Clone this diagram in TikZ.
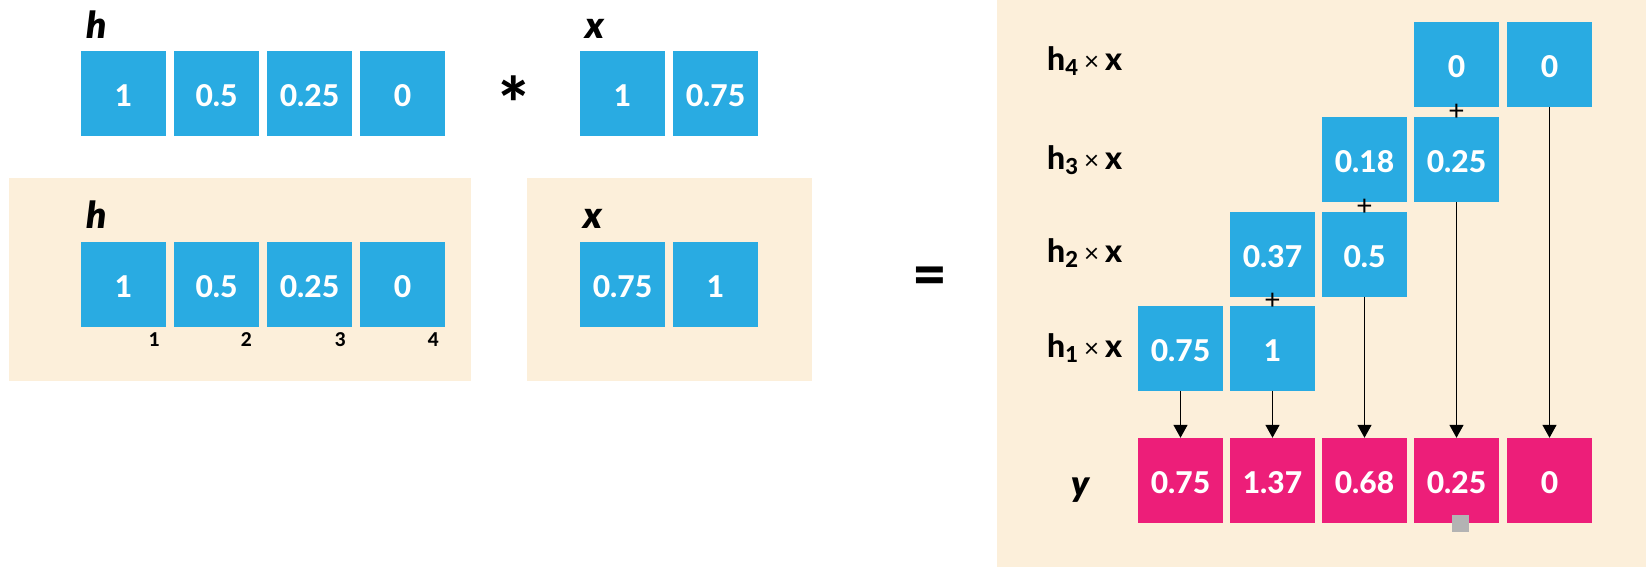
\documentclass[tikz,border=0pt]{standalone}
\usepackage{fontspec}
\IfFontExistsTF{Lato Heavy}
  {\setmainfont{Lato}[BoldFont={Lato Heavy}]}
  {\setmainfont{Lato}}
\usetikzlibrary{arrows.meta}
\definecolor{cyanc}{HTML}{29ABE2}
\definecolor{magc}{HTML}{ED1E79}
\definecolor{beige}{HTML}{FCEFDA}
\definecolor{grayc}{HTML}{B3B3B3}
\newcommand{\fsz}[1]{\fontsize{#1}{#1}\selectfont}
\newcommand{\hrow}[1]{\textbf{h}\raisebox{-5pt}{\fsz{22}\bfseries #1}\hspace{6pt}{\fsz{26}×}\hspace{6pt}\textbf{x}}
\begin{document}
\begin{tikzpicture}[x=1pt,y=-1pt,
  cell/.style={minimum width=85pt,minimum height=85pt,inner sep=0pt,text=white,
    text height=26pt,text depth=0pt,font=\fsz{30}\bfseries},
  bcell/.style={cell,fill=cyanc},
  mcell/.style={cell,fill=magc},
  vlab/.style={anchor=base west,inner sep=0pt,font=\fsz{37}\bfseries\itshape},
  idx/.style={anchor=base east,inner sep=0pt,font=\fsz{19}\bfseries},
  plussign/.style={inner sep=0pt,font=\fsz{28}},
  rowlab/.style={anchor=base west,inner sep=0pt,font=\fsz{32}},
  arr/.style={line width=1.5pt,-{Triangle[width=14pt,length=13pt]}},
  panel/.style={fill=beige}
]
\useasboundingbox (0,0) rectangle (1646,567);
% panels
\fill[panel] (9,178) rectangle (471,381);
\fill[panel] (527,178) rectangle (812,381);
\fill[panel] (997,0) rectangle (1646,567);

% top row
\node[vlab] (ht) at (86,39) {h};
\node[bcell] (h1) at (123.5,93.5) {1};
\node[bcell] (h2) at (216.5,93.5) {0.5};
\node[bcell] (h3) at (309.5,93.5) {0.25};
\node[bcell] (h4) at (402.5,93.5) {0};
\node[anchor=base,inner sep=0pt,font=\fsz{72}\bfseries] (star) at (514,131) {*};
\node[vlab] (xt) at (585,39) {x};
\node[bcell] (x1) at (622.5,93.5) {1};
\node[bcell] (x2) at (715.5,93.5) {0.75};

% second row
\node[vlab] (hb) at (86,228) {h};
\node[bcell] (hb1) at (123.5,284.5) {1};
\node[bcell] (hb2) at (216.5,284.5) {0.5};
\node[bcell] (hb3) at (309.5,284.5) {0.25};
\node[bcell] (hb4) at (402.5,284.5) {0};
\node[idx] (i1) at (160,346) {1};
\node[idx] (i2) at (252,346) {2};
\node[idx] (i3) at (346,346) {3};
\node[idx] (i4) at (439,346) {4};
\node[vlab] (xb) at (583,228) {x};
\node[bcell] (xb1) at (622.5,284.5) {0.75};
\node[bcell] (xb2) at (715.5,284.5) {1};

\node[inner sep=0pt,font=\fsz{60}\bfseries] (eq) at (930,281) {=};

% right panel rows
\node[rowlab] (l4) at (1047,71) {\hrow{4}};
\node[rowlab] (l3) at (1047,169) {\hrow{3}};
\node[rowlab] (l2) at (1047,262) {\hrow{2}};
\node[rowlab] (l1) at (1047,357) {\hrow{1}};
\node[rowlab,font=\fsz{36}\bfseries\itshape] (ly) at (1071,496) {y};

\node[bcell] (a4) at (1456.5,64.5) {0};
\node[bcell] (b4) at (1549.5,64.5) {0};
\node[bcell] (a3) at (1364.5,159.5) {0.18};
\node[bcell] (b3) at (1456.5,159.5) {0.25};
\node[bcell] (a2) at (1272.5,254) {0.37};
\node[bcell] (b2) at (1364.5,254) {0.5};
\node[bcell] (a1) at (1180.5,348.5) {0.75};
\node[bcell] (b1) at (1272.5,348.5) {1};

\node[plussign] (p4) at (1456.5,112) {+};
\node[plussign] (p3) at (1364.5,207) {+};
\node[plussign] (p2) at (1272.5,301.5) {+};

\node[mcell] (y1) at (1180.5,480.5) {0.75};
\node[mcell] (y2) at (1272.5,480.5) {1.37};
\node[mcell] (y3) at (1364.5,480.5) {0.68};
\node[mcell] (y4) at (1456.5,480.5) {0.25};
\node[mcell] (y5) at (1549.5,480.5) {0};

\draw[arr] (a1.south) -- (y1.north);
\draw[arr] (b1.south) -- (y2.north);
\draw[arr] (b2.south) -- (y3.north);
\draw[arr] (b3.south) -- (y4.north);
\draw[arr] (b4.south) -- (y5.north);

\fill[grayc] (1452,515) rectangle (1469,532);
\end{tikzpicture}
\end{document}
